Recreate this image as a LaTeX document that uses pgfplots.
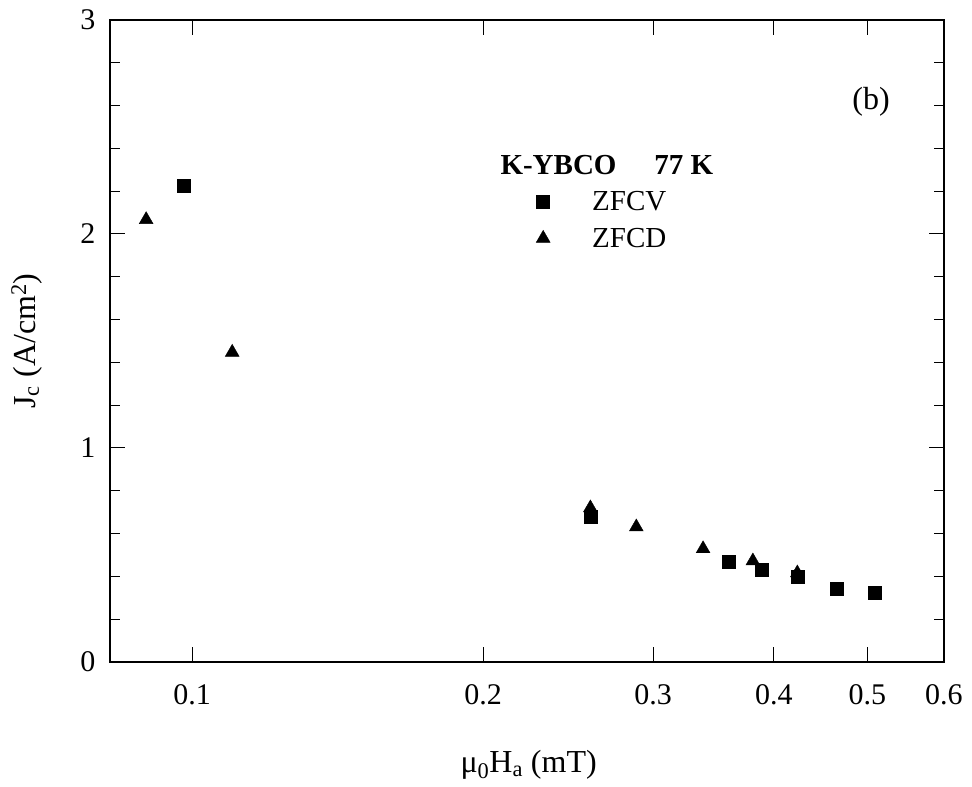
\documentclass[border=0pt]{standalone}
\usepackage{pgfplots}
\pgfplotsset{compat=1.18}
\usepackage{fontspec}
\setmainfont{Liberation Serif}
\begin{document}
\begin{tikzpicture}[font=\fontsize{29}{34}\selectfont]
\begin{axis}[
  xmode=log,
  scale only axis, width=834pt, height=642pt,
  xmin=0.0822, xmax=0.6, ymin=0, ymax=3,
  xtick={0.1,0.2,0.3,0.4,0.5,0.6},
  xticklabels={0.1,0.2,0.3,0.4,0.5,0.6},
  minor xtick={},
  ytick={0,1,2,3}, yticklabels={0,1,2,3},
  minor ytick={0.2,0.4,0.6,0.8,1.2,1.4,1.6,1.8,2.2,2.4,2.6,2.8},
  tick align=inside,
  major tick length=15pt, minor tick length=10pt,
  axis line style={line width=1.2pt},
  every tick/.style={black, line width=1pt},
  xticklabel style={yshift=-19pt, font=\fontsize{30}{36}\selectfont},
  yticklabel style={xshift=-11pt, font=\fontsize{30}{36}\selectfont},
  xlabel={μ\textsubscript{0}H\textsubscript{a} (mT)},
  ylabel={J\textsubscript{c} (A/cm\textsuperscript{2})},
  xlabel style={at={(axis description cs:0.502,-0.16)}, anchor=center, font=\fontsize{32}{38}\selectfont},
  ylabel style={at={(axis description cs:-0.1,0.5)}, anchor=center, font=\fontsize{32}{38}\selectfont},
  legend style={draw=none, fill=none, inner sep=0pt,
    at={(axis description cs:0.5096,0.6885)}, anchor=west,
    nodes={inner sep=2pt}, row sep=12pt},
  legend cell align=left,
  legend image code/.code={%
    \draw[#1] plot coordinates {(0pt,0pt)};
    \path[draw=none,fill=none] (-8pt,-8pt) rectangle (47pt,8pt);},
]
\addplot[only marks, mark=square*, mark size=6.5pt, black] coordinates {
  (0.0981,2.226) (0.2583,0.678) (0.3596,0.468) (0.3888,0.430)
  (0.4230,0.398) (0.4650,0.341) (0.5082,0.323)
};
\addlegendentry{ZFCV}
\addplot[only marks, mark=triangle*, mark size=8pt, black] coordinates {
  (0.0896,2.067) (0.1100,1.447) (0.2583,0.720) (0.2882,0.631)
  (0.3379,0.529) (0.3805,0.472) (0.4230,0.416)
};
\addlegendentry{ZFCD}
\node[anchor=west, font=\fontsize{29}{34}\selectfont\bfseries] at (rel axis cs:0.464,0.774) {K-YBCO\hspace{38pt}77 K};
\node[anchor=center, font=\fontsize{32}{38}\selectfont] at (rel axis cs:0.9125,0.872) {(b)};
\end{axis}
\pgfresetboundingbox
\path ([shift={(-110pt,-125pt)}]current axis.south west) rectangle ([shift={(28pt,20pt)}]current axis.north east);
\end{tikzpicture}
\end{document}
